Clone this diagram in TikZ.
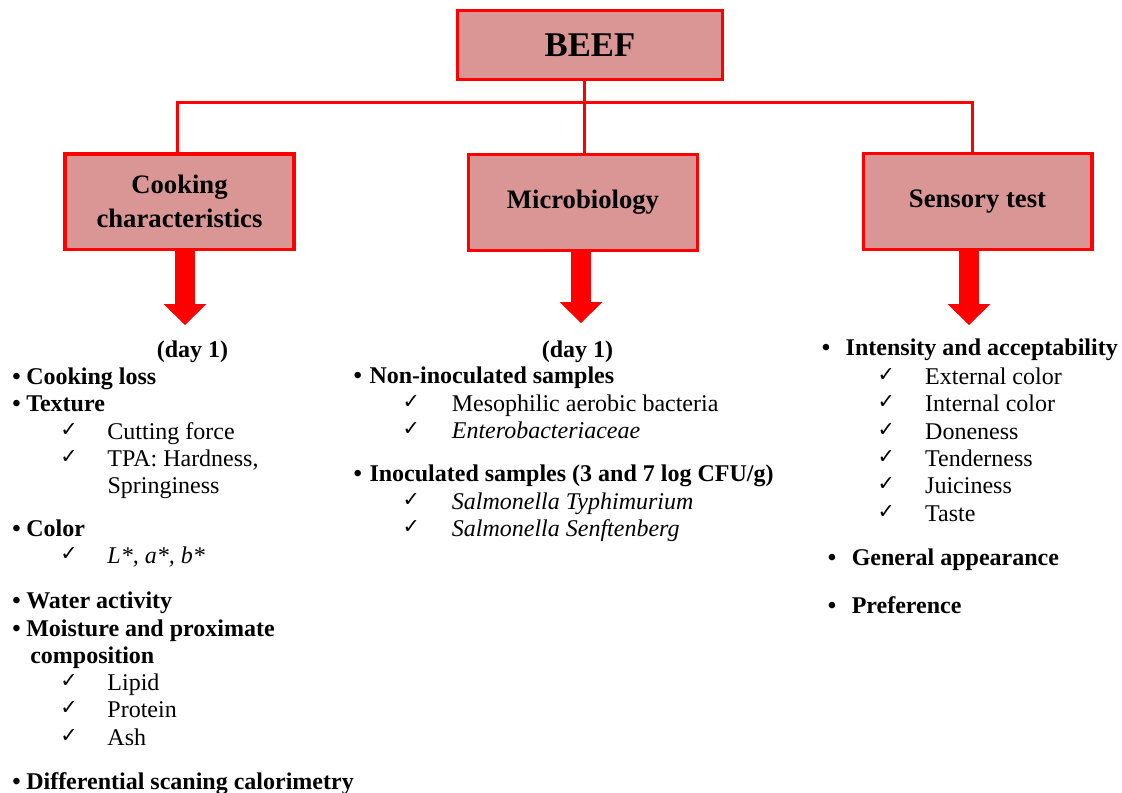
\documentclass[tikz,border=0pt]{standalone}
\usepackage{fontspec}
\setmainfont{Liberation Serif}
\newfontfamily\symfont{DejaVu Sans}
\usetikzlibrary{arrows.meta}
\definecolor{boxfill}{RGB}{217,150,148}
\definecolor{linered}{RGB}{255,0,0}
% bullet item: bullet in a fixed-width slot, then the text
\newcommand\bitem[2]{\makebox[#1][l]{\textbullet}#2}
% check item: check mark in a fixed-width slot, then the text
\newcommand\citem[2]{\makebox[#1][l]{\raisebox{2.2pt}{\fontsize{15.5}{17}\symfont ✓}}#2}

\begin{document}
\begin{tikzpicture}[x=0.75pt,y=-0.75pt,
  box/.style={draw=linered, fill=boxfill, line width=2.5pt,
    minimum width=171.5pt, minimum height=72pt, align=center,
    font=\fontsize{20}{25.5}\selectfont\bfseries, inner sep=0pt},
  conn/.style={draw=linered, line width=2.25pt},
  flow/.style={draw=linered, line width=15pt,
    -{Triangle[width=32.25pt,length=15.75pt,line width=0pt]}},
  txt/.style={anchor=base west, inner sep=0pt, font=\fontsize{18}{20.7}\selectfont},
  bold/.style={txt, font=\fontsize{18}{20.7}\selectfont\bfseries}]

\useasboundingbox (0,0) rectangle (1122,793);

% title and the three branches
\node[box, minimum width=198.75pt, minimum height=51.5pt,
  font=\fontsize{26}{30}\selectfont\bfseries] (beef) at (589.9,45) {BEEF};
\node[box, minimum width=171.75pt, minimum height=71.5pt] (cook) at (179.5,201.6) {Cooking\\characteristics};
\node[box] (micro) at (583,202.3) {Microbiology};
\node[box] (sens) at (977.5,201.7) {Sensory test};

% tree connectors
\coordinate (jc) at (177,102.5);
\coordinate (jm) at (584.5,102.5);
\coordinate (js) at (972.3,102.5);
\draw[conn] (cook.north -| jc) -- (jc) -- (js) -- (sens.north -| js);
\draw[conn] (beef.south -| jm) -- (micro.north -| jm);

% block arrows below the branches
\coordinate (tc) at (185,325);
\coordinate (tm) at (581,323);
\coordinate (ts) at (969,325);
\draw[flow] (cook.south -| tc) -- (tc);
\draw[flow] (micro.south -| tm) -- (tm);
\draw[flow] (sens.south -| ts) -- (ts);

% cooking characteristics
\node[bold, anchor=base] (cd) at (192.5,357) {(day 1)};
\node[bold] (c1) at (12,384) {\bitem{10.5pt}{Cooking loss}};
\node[bold] (c2) at (12,411) {\bitem{10.5pt}{Texture}};
\node[txt] (c3) at (60,439) {\citem{35.4pt}{Cutting force}};
\node[txt] (c4) at (60,466.7) {\citem{35.4pt}{TPA: Hardness,}};
\node[txt] (c5) at (107.3,493.3) {Springiness};
\node[bold] (c6) at (12,536.7) {\bitem{10.5pt}{Color}};
\node[txt] (c7) at (60,563) {\citem{35.4pt}{\textit{L*, a*, b*}}};
\node[bold] (c8) at (12,608.3) {\bitem{10.5pt}{Water activity}};
\node[bold] (c9) at (12,636) {\bitem{10.5pt}{Moisture and proximate}};
\node[bold] (c10) at (30,663) {composition};
\node[txt] (c11) at (60,690) {\citem{35.4pt}{Lipid}};
\node[txt] (c12) at (60,717.3) {\citem{35.4pt}{Protein}};
\node[txt] (c13) at (60,745) {\citem{35.4pt}{Ash}};
\node[bold] (c14) at (12,789.3) {\bitem{10.5pt}{Differential scaning calorimetry}};

% microbiology
\node[bold, anchor=base] (md) at (577.5,357) {(day 1)};
\node[bold] (m1) at (353.3,383) {\bitem{12pt}{Non-inoculated samples}};
\node[txt] (m2) at (402.3,411) {\citem{37pt}{Mesophilic aerobic bacteria}};
\node[txt] (m3) at (402.3,438.3) {\citem{37pt}{\textit{Enterobacteriaceae}}};
\node[bold] (m4) at (353.3,481.7) {\bitem{12pt}{Inoculated samples (3 and 7 log CFU/g)}};
\node[txt] (m5) at (402.3,509) {\citem{37pt}{\textit{Salmonella Typhimurium}}};
\node[txt] (m6) at (402.3,536) {\citem{37pt}{\textit{Salmonella Senftenberg}}};

% sensory test
\node[bold] (s1) at (821.5,355) {\bitem{18pt}{Intensity and acceptability}};
\node[txt] (s2) at (877.3,384) {\citem{35.7pt}{External color}};
\node[txt] (s3) at (877.3,411.7) {\citem{35.7pt}{Internal color}};
\node[txt] (s4) at (877.3,439.3) {\citem{35.7pt}{Doneness}};
\node[txt] (s5) at (877.3,466.7) {\citem{35.7pt}{Tenderness}};
\node[txt] (s6) at (877.3,493.3) {\citem{35.7pt}{Juiciness}};
\node[txt] (s7) at (877.3,521) {\citem{35.7pt}{Taste}};
\node[bold] (s8) at (827.5,565) {\bitem{18pt}{General appearance}};
\node[bold] (s9) at (827.5,613.3) {\bitem{18pt}{Preference}};

\end{tikzpicture}
\end{document}
